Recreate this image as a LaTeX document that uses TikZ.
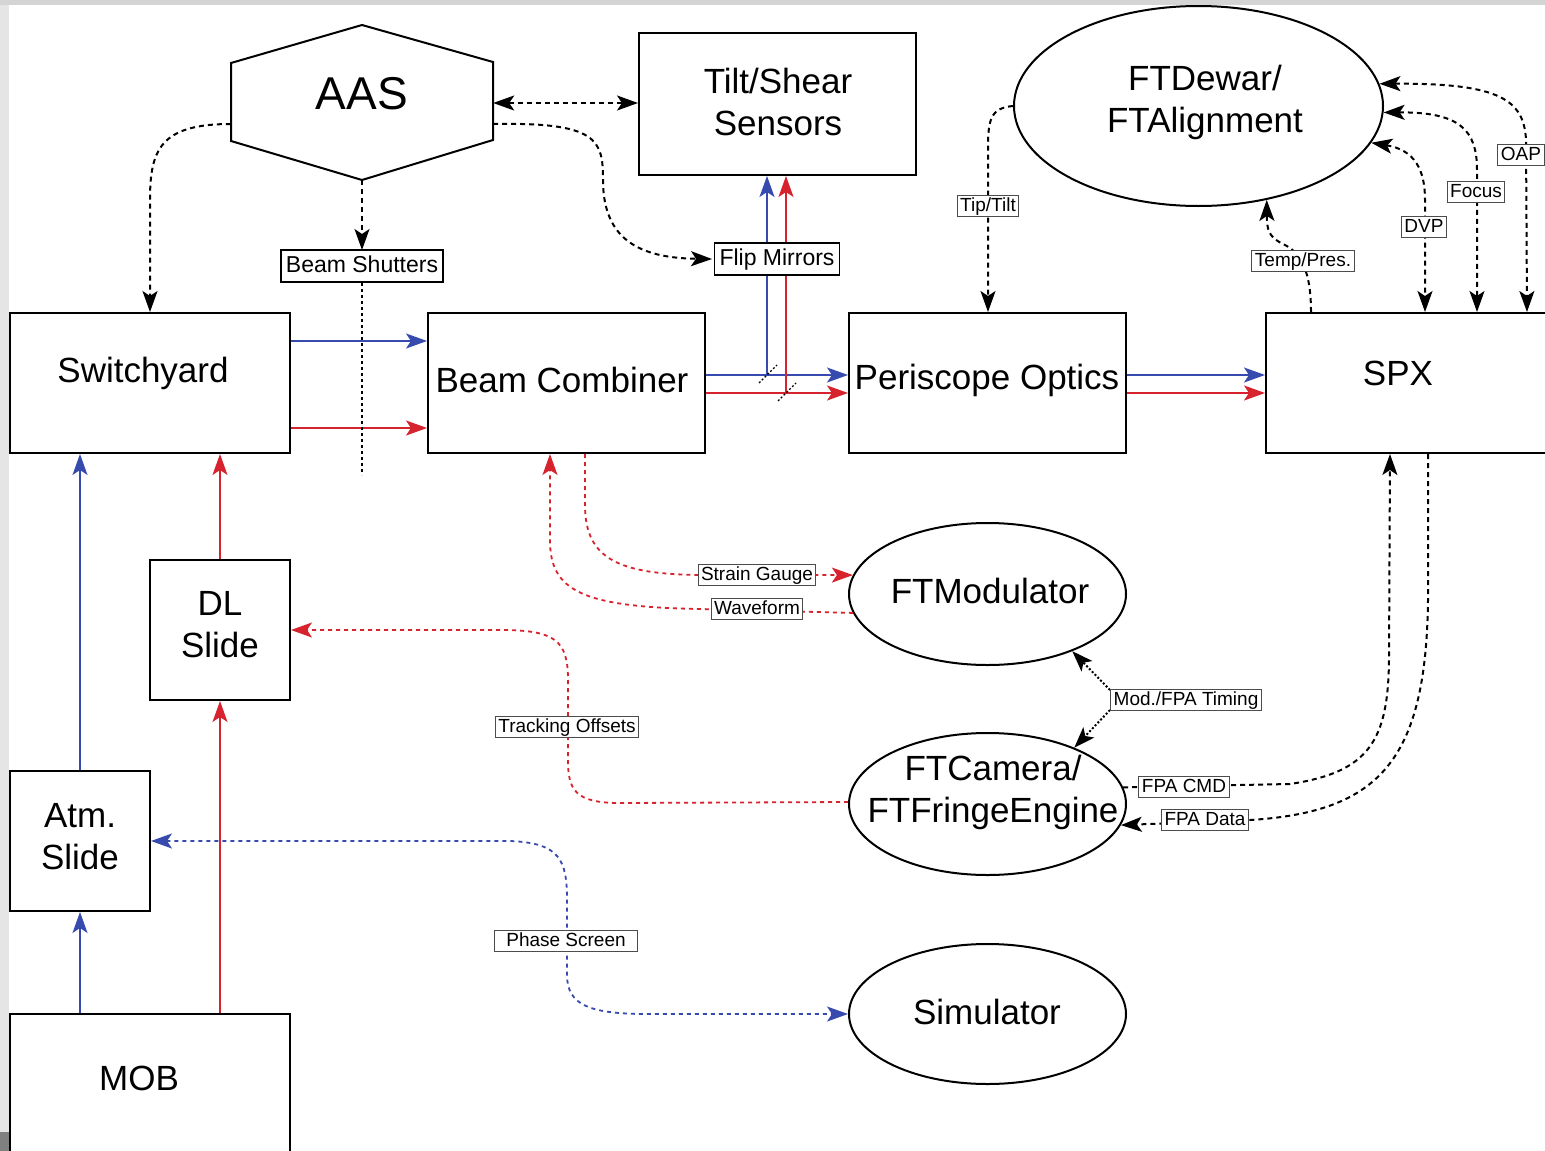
\documentclass[tikz,border=0pt]{standalone}
\usepackage{fontspec}
\setmainfont{Liberation Sans}
\usetikzlibrary{arrows.meta,shapes.geometric,calc}
\definecolor{bblue}{RGB}{55,75,175}
\definecolor{bred}{RGB}{215,35,45}
\definecolor{topgray}{RGB}{212,212,212}
\definecolor{leftgray}{RGB}{229,229,229}
\begin{document}
\begin{tikzpicture}[x=1pt,y=-1pt,
  >={Stealth[length=21pt,width=15pt,inset=5pt]},
  box/.style={draw,line width=2pt,rectangle,inner sep=0pt},
  oval/.style={draw,line width=2pt,ellipse,inner sep=0pt},
  big/.style={font=\fontsize{35}{42}\selectfont,align=center,inner sep=0pt},
  tag/.style={draw=black!70,line width=1pt,fill=white,inner xsep=3pt,inner ysep=1.5pt,text height=14.3pt,text depth=4.2pt,font=\fontsize{19}{22}\selectfont},
  tagb/.style={draw,line width=1.8pt,fill=white,inner xsep=5pt,inner ysep=4.5pt,text height=17.3pt,text depth=5pt,font=\fontsize{23}{26}\selectfont},
  ctl/.style={draw=black,line width=2pt,dash pattern=on 5pt off 4pt},
  dotl/.style={draw=black,line width=2pt,dash pattern=on 2pt off 2pt},
  bb/.style={draw=bblue,line width=1.8pt},
  br/.style={draw=bred,line width=1.8pt},
  bbd/.style={draw=bblue,line width=1.8pt,dash pattern=on 4pt off 4pt},
  brd/.style={draw=bred,line width=1.8pt,dash pattern=on 4pt off 4pt}
]
\useasboundingbox (0,0) rectangle (1545,1151);
\clip (0,0) rectangle (1545,1151);
\fill[topgray] (0,0) rectangle (1545,1151);
\fill[leftgray] (0,5) rectangle (9,1151);
\fill[gray] (0,1132) rectangle (9,1151);
\fill[white] (9,5) rectangle (1545,1151);

% ---------- boxes ----------
\node[box,minimum width=280pt,minimum height=140pt] (sw) at (150,383) {};
\node[box,minimum width=277pt,minimum height=140pt] (bc) at (566.5,383) {};
\node[box,minimum width=277pt,minimum height=140pt] (po) at (987.5,383) {};
\node[box,minimum width=294pt,minimum height=140pt] (spx) at (1413,383) {};
\node[box,minimum width=277pt,minimum height=142pt] (tss) at (777.5,104) {};
\node[box,minimum width=140pt,minimum height=140pt] (dl) at (220,630) {};
\node[box,minimum width=140pt,minimum height=140pt] (atm) at (80,841) {};
\node[box,minimum width=280pt,minimum height=140pt] (mob) at (150,1084) {};

% ---------- ellipses ----------
\node[oval,minimum width=369pt,minimum height=200pt] (ftd) at (1198.5,106) {};
\node[oval,minimum width=277pt,minimum height=142pt] (ftm) at (987.5,594) {};
\node[oval,minimum width=277pt,minimum height=142pt] (ftc) at (987.5,804) {};
\node[oval,minimum width=277pt,minimum height=140pt] (sim) at (987.5,1014) {};

% ---------- AAS hexagon ----------
\draw[line width=2pt] (362,25) -- (493,62) -- (493,140) -- (362,180) -- (231,141) -- (231,63) -- cycle;
\node[minimum width=262pt,minimum height=155pt,inner sep=0pt] (aas) at (362,102.5) {};

% ---------- texts ----------
\node[font=\fontsize{46}{50}\selectfont,inner sep=0pt] (tAAS) at (362,94) {AAS};
\node[big] (tTSS) at (778,102) {Tilt/Shear\\Sensors};
\node[big] (tSW) at (143,373) {Switchyard};
\node[big] (tBC) at (562,380) {Beam Combiner};
\node[big] (tPO) at (987,380) {Periscope Optics};
\node[big] (tSPX) at (1398,373) {SPX};
\node[big] (tFTD) at (1205,102) {FTDewar/\\FTAlignment};
\node[big] (tFTM) at (990,591) {FTModulator};
\node[big] (tFTC) at (993,792) {FTCamera/\\FTFringeEngine};
\node[big] (tSIM) at (987,1012) {Simulator};
\node[big] (tDL) at (220,625) {DL\\Slide};
\node[big] (tATM) at (80,837) {Atm.\\Slide};
\node[big] (tMOB) at (139,1078) {MOB};

% ---------- beams ----------
\coordinate (m1) at (767,375);
\coordinate (m2) at (786,393);
\draw[bb,->] (sw.east |- 0,341) -- (bc.west |- 0,341);
\draw[br,->] (sw.east |- 0,428) -- (bc.west |- 0,428);
\draw[bb,->] (bc.east |- 0,375) -- (po.west |- 0,375);
\draw[br,->] (bc.east |- 0,393) -- (po.west |- 0,393);
\draw[bb,->] (po.east |- 0,375) -- (spx.west |- 0,375);
\draw[br,->] (po.east |- 0,393) -- (spx.west |- 0,393);
\draw[bb,->] (m1) -- (tss.south -| m1);
\draw[br,->] (m2) -- (tss.south -| m2);
\draw[black,line width=1.3pt,dash pattern=on 2pt off 2pt] ($(m1)+(-8,8)$) -- ($(m1)+(10,-10)$);
\draw[black,line width=1.3pt,dash pattern=on 2pt off 2pt] ($(m2)+(-8,8)$) -- ($(m2)+(10,-10)$);
\draw[bb,->] (atm.north) -- (sw.south -| atm.north);
\draw[bb,->] (mob.north -| atm.south) -- (atm.south);
\draw[br,->] (dl.north) -- (sw.south -| dl.north);
\draw[br,->] (mob.north -| dl.south) -- (dl.south);

% ---------- black control links ----------
\coordinate (shEnd) at (362,475);
\draw[ctl,<->] (aas.east |- 0,103) -- (tss.west |- 0,103);
\draw[ctl,->] (aas.west |- 0,124) .. controls (160,124) and (150,150) .. (150,200) -- (sw.north -| 150,0);
\draw[ctl,->] (aas.south) -- (362,250);
\draw[ctl,->] (aas.east |- 0,124) .. controls (598,122) and (603,140) .. (603,180) .. controls (603,240) and (640,258) .. (712,259);
\draw[dotl,dash pattern=on 3pt off 3pt] (362,283) -- (shEnd);
\draw[ctl,->] (ftd.west) .. controls (990,108) and (988,120) .. (988,150) -- (po.north -| 988,0);
\draw[ctl,->] (spx.north -| 1311,0) .. controls (1311,280) and (1305,255) .. (1285,245) .. controls (1268,237) and (1267,230) .. (ftd.-54);
\draw[ctl,<->] (ftd.-12) .. controls (1415,150) and (1425,170) .. (1425,200) -- (spx.north -| 1425,0);
\draw[ctl,<->] (ftd.-2) .. controls (1460,112) and (1477,130) .. (1477,170) -- (spx.north -| 1477,0);
\draw[ctl,<->] (ftd.7) .. controls (1500,83) and (1524,100) .. (1526,140) -- (spx.north -| 1527,0);
\draw[ctl,->] (ftc.7) -- (1290,784) .. controls (1370,772) and (1388,740) .. (1389,660) -- (spx.south -| 1390,0);
\draw[ctl,->] (spx.south -| 1428,0) -- (1428,600) .. controls (1426,760) and (1380,812) .. (1250,820) -- (ftc.-9);
\draw[dotl,->] (1110,690) -- (ftm.-34);
\draw[dotl,->] (1110,710) -- (ftc.33);

% ---------- red / blue dashed ----------
\draw[brd,->] (bc.south -| 585,0) -- (585,505) .. controls (585,560) and (620,574) .. (700,575) -- (ftm.172);
\draw[brd,->] (ftm.188) -- (700,609) .. controls (580,607) and (550,590) .. (550,540) -- (bc.south -| 550,0);
\draw[brd,->] (ftc.west |- 0,802) -- (620,803) .. controls (575,803) and (568,790) .. (568,760) -- (568,680) .. controls (568,640) and (555,630) .. (500,630) -- (dl.east);
\draw[bbd,<->] (atm.east) -- (510,841) .. controls (560,843) and (567,860) .. (567,900) -- (567,975) .. controls (567,1005) and (590,1013) .. (640,1014) -- (sim.west);

% ---------- labels ----------
\node[tagb] (bs) at (362,266) {Beam Shutters};
\node[tagb] (fm) at (777,259) {Flip Mirrors};
\node[tag] (tt) at (988,206) {Tip/Tilt};
\node[tag] (tp) at (1303,261) {Temp/Pres.};
\node[tag] (dvp) at (1424,227) {DVP};
\node[tag] (foc) at (1476,192) {Focus};
\node[tag] (oap) at (1521,155) {OAP};
\node[tag] (sg) at (757,575) {Strain Gauge};
\node[tag] (wf) at (757,609) {Waveform};
\node[tag] (mft) at (1186,700) {Mod./FPA Timing};
\node[tag] (to) at (567,727) {Tracking Offsets};
\node[tag] (fcmd) at (1184,787) {FPA CMD};
\node[tag] (fdata) at (1205,820) {FPA Data};
\node[tag,inner xsep=12pt] (ps) at (566,941) {Phase Screen};
\end{tikzpicture}
\end{document}
